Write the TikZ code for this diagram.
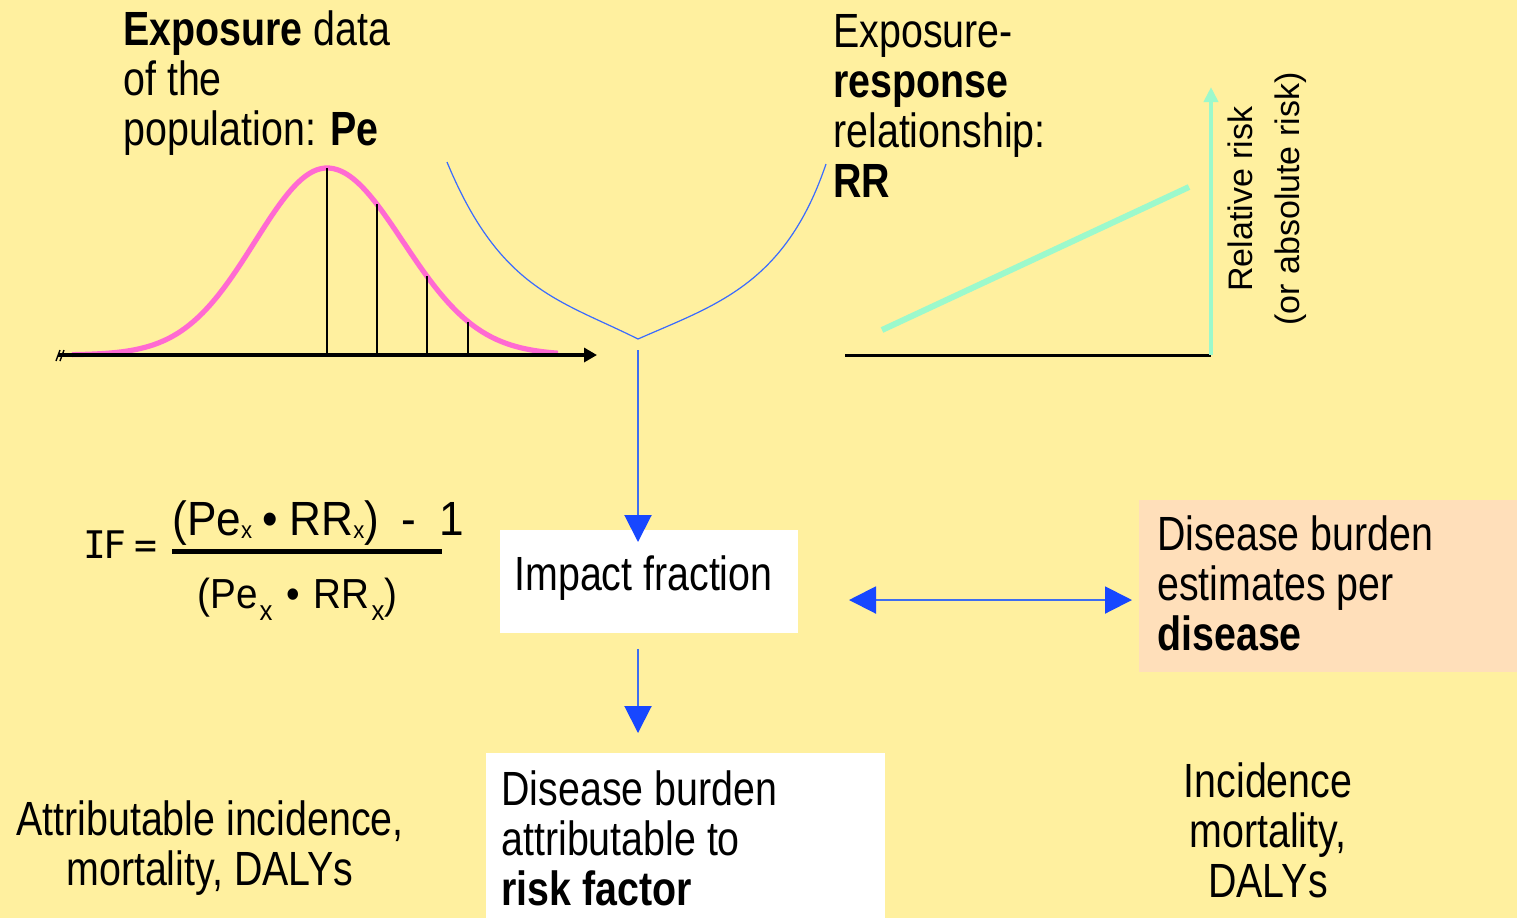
\documentclass[tikz,border=0pt]{standalone}
\usepackage{fontspec}
\setmainfont{Liberation Sans}
\newfontfamily\narrow[FakeStretch=0.82]{Liberation Sans}
\newfontfamily\formf[FakeStretch=0.92]{Liberation Sans}
\newfontfamily\monof{DejaVu Sans Mono}
\usetikzlibrary{arrows.meta,calc}
\definecolor{bgc}{HTML}{FFF09F}
\definecolor{peach}{HTML}{FFDFBA}
\definecolor{pinkc}{HTML}{FF6AD2}
\definecolor{tealc}{HTML}{9CF9CC}
\definecolor{lineblue}{HTML}{3E6EF0}
\definecolor{arrblue}{HTML}{1747FF}
\definecolor{vblue}{HTML}{3A6BFF}
\newcommand\Lstack[1]{\vtop{\halign{##\hfil\cr#1\crcr}}}
\newcommand\Cstack[1]{\vtop{\halign{\hfil##\hfil\cr#1\crcr}}}
\newcommand\subA{\raisebox{-1.5pt}{\fontsize{12}{12}\selectfont x}}
\newcommand\subB{\kern1pt\raisebox{-6pt}{\fontsize{14}{14}\selectfont x}}
\begin{document}
\begin{tikzpicture}[x=0.5pt,y=-0.5pt,
  declare function={bell(\x)=355-187*exp(-0.5*((\x-327)/(\x<327?72:76))^2);},
  lbl/.style={inner sep=0pt, anchor=base west, font=\narrow\fontsize{24}{25}\selectfont},
  clbl/.style={lbl, anchor=base},
  whitebox/.style={fill=white, draw=none, inner sep=0pt, anchor=north west},
  bluearr/.style={draw=lineblue, line width=1pt, -{Triangle[length=13.5pt,width=13.5pt,color=arrblue]}},
  bluedbl/.style={draw=lineblue, line width=1pt, {Triangle[length=13.5pt,width=13.5pt,color=arrblue]}-{Triangle[length=13.5pt,width=13.5pt,color=arrblue]}},
  vline/.style={draw=vblue, line width=0.6pt},
  tick/.style={draw=black, line width=0.7pt}
]
\useasboundingbox (0,0) rectangle (1517,918);
\fill[bgc] (0,0) rectangle (1517,918);

% ---- boxes
\node[whitebox, minimum width=149pt, minimum height=51.5pt] (ifbox) at (500,530) {};
\node[whitebox, minimum width=199.5pt, minimum height=82.5pt] (botbox) at (486,753) {};
\node[whitebox, fill=peach, minimum width=189pt, minimum height=86pt] (peachbox) at (1139,500) {};

% ---- top-left label
\node[lbl] (expo) at (123,45) {\Lstack{\textbf{Exposure} data\cr of the\cr population: \textbf{Pe}}};
% ---- top-middle label
\node[lbl] (resp) at (833,47) {\Lstack{Exposure-\cr \textbf{response}\cr relationship:\cr \textbf{RR}}};

% ---- bell curve chart
\draw[tick] (56,361) -- (60,350);
\draw[tick] (60,361) -- (64,350);
\draw[pinkc, line width=2.6pt] plot[domain=72:558, samples=120, smooth] (\x,{bell(\x)});
\draw[tick] (327,{bell(327)}) -- (327,355);
\draw[tick] (377,{bell(377)}) -- (377,355);
\draw[tick] (427,{bell(427)}) -- (427,355);
\draw[tick] (468,{bell(468)}) -- (468,355);
\coordinate (laxs) at (58,355);
\coordinate (laxe) at (597,355);
\draw[line width=2pt, -{Triangle[length=6.5pt,width=7pt]}] (laxs) -- (laxe);

% ---- V curve
\coordinate (vtx) at (638,339);
\draw[vline] (447,162) .. controls (500,290) and (560,300) .. (vtx)
  .. controls (715,305) and (785,285) .. (826,164);

% ---- right chart
\coordinate (origin) at (1211,355);
\coordinate (ytop) at (1211,87);
\draw[line width=1.5pt] (845,355) -- (origin);
\draw[tealc, line width=2pt, -{Triangle[length=7.5pt,width=7pt]}] (origin) -- (ytop);
\draw[tealc, line width=3pt] (882,330) -- (1189,187);
\node[rotate=90, inner sep=0pt, font=\fontsize{17}{23.5}\selectfont, align=center] (rr) at (1267,199) {Relative risk\\(or absolute risk)};

% ---- formula
\node[inner sep=0pt, anchor=base west, font=\monof\fontsize{19}{19}\selectfont] (ifeq) at (83,558) {I\kern-1.5pt F\hspace{4pt}=};
\node[inner sep=0pt, anchor=base west, font=\formf\fontsize{24}{24}\selectfont] (num) at (172,535) {(Pe\subA\hspace{5pt}•\hspace{6pt}RR\subA)\hspace{11pt}-\hspace{12pt}1};
\coordinate (barl) at (172,551);
\coordinate (barr) at (442,551);
\draw[line width=2.5pt] (barl) -- (barr);
\node[inner sep=0pt, anchor=base west, font=\formf\fontsize{21}{21}\selectfont] (den) at (197,608) {(Pe\subB\hspace{7pt}•\hspace{7pt}RR\subB)};

% ---- box texts
\node[lbl] (iftext) at (514,590) {Impact fraction};
\node[lbl] (bottext) at (501,805) {\Lstack{Disease burden\cr attributable to\cr \textbf{risk factor}}};
\node[lbl] (peachtext) at (1157,550) {\Lstack{Disease burden\cr estimates per\cr \textbf{disease}}};

% ---- bottom texts
\node[clbl] (attr) at (210,835) {\Cstack{Attributable incidence,\cr mortality, DALYs}};
\node[clbl] (inc) at (1268,797) {\Cstack{Incidence\cr mortality,\cr DALYs}};

% ---- arrows
\draw[bluearr, shorten <=5.5pt, shorten >=-6pt] (vtx) -- (vtx |- ifbox.north);
\draw[bluearr, shorten <=7.5pt, shorten >=10pt] (vtx |- ifbox.south) -- (vtx |- botbox.north);
\coordinate (dl) at (849,600);
\coordinate (dr) at (1132,600);
\draw[bluedbl] (dl) -- (dr);
\end{tikzpicture}
\end{document}
